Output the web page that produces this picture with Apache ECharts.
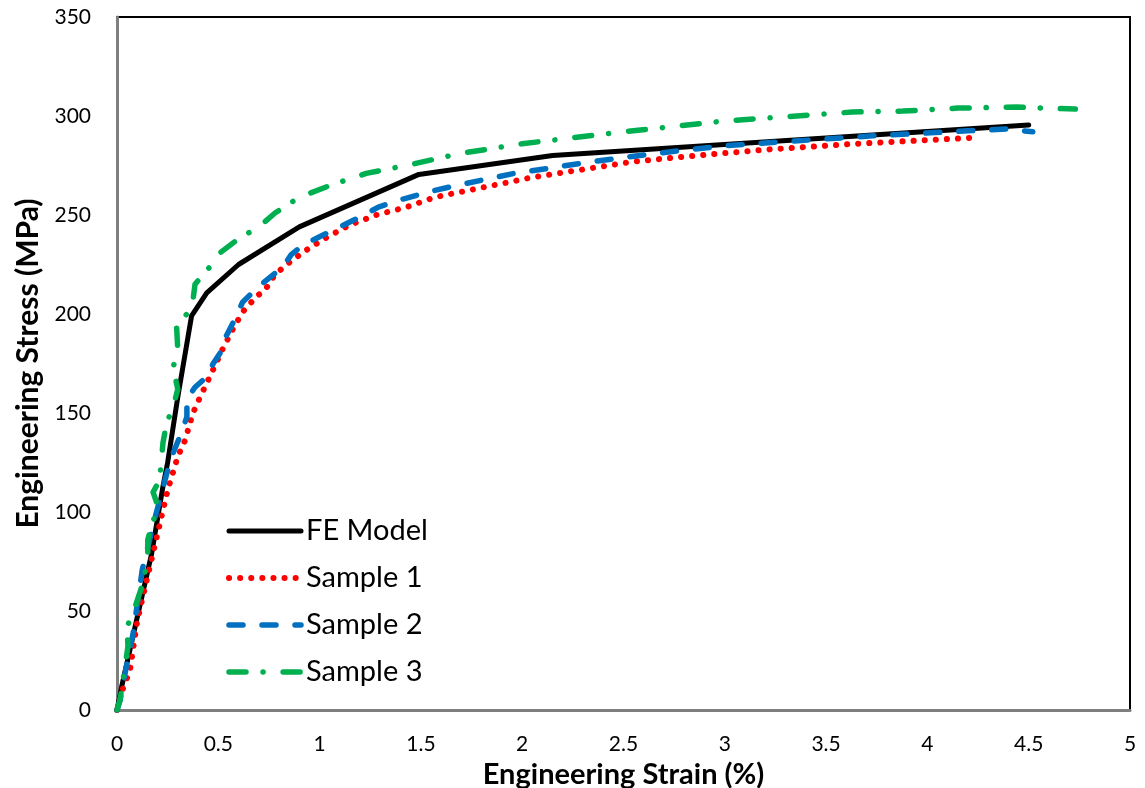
<!DOCTYPE html>
<html>
<head>
<meta charset="utf-8">
<script src="https://cdn.jsdelivr.net/npm/echarts@6/dist/echarts.min.js"></script>
<style>
html,body{margin:0;padding:0;background:#fff;}
#chart{width:1145px;height:788px;}
</style>
</head>
<body>
<div id="chart"></div>
<script>
// ---- data ----
const xTicks = [0, 0.5, 1, 1.5, 2, 2.5, 3, 3.5, 4, 4.5, 5];
const yTicks = [0, 50, 100, 150, 200, 250, 300, 350];
const seriesNames = ['FE Model', 'Sample 1', 'Sample 2', 'Sample 3'];

const feStrain = [0, 0.023, 0.097, 0.171, 0.227, 0.25, 0.30, 0.368, 0.443, 0.60, 0.90, 1.49, 2.15, 4.50];
const feStress = [0, 11.8, 45.5, 79, 113, 125, 158, 199, 210.7, 225, 244, 270.5, 280, 295.5];

const s1Strain = [0, 0.03, 0.064, 0.10, 0.15, 0.20, 0.25, 0.30, 0.335, 0.375, 0.41, 0.475, 0.52, 0.57, 0.62, 0.69, 0.73, 0.78, 0.85, 0.93, 1.04, 1.15, 1.28, 1.43, 1.57, 2.05, 2.55, 2.86, 3.20, 3.65, 4.22];
const s1Stress = [0, 11, 20, 45, 67, 89, 111, 128, 136, 150, 158, 172, 182, 192, 201, 209, 212, 220, 226, 232, 239, 245, 250, 254, 259, 269, 277, 280, 283, 286, 289];

const s2Strain = [0, 0.015, 0.05, 0.08, 0.125, 0.19, 0.25, 0.27, 0.31, 0.345, 0.345, 0.385, 0.44, 0.475, 0.52, 0.54, 0.58, 0.62, 0.69, 0.82, 0.86, 0.92, 1.00, 1.10, 1.22, 1.29, 1.41, 1.55, 1.68, 1.96, 2.35, 2.65, 3.00, 3.73, 4.39, 4.52];
const s2Stress = [0, 5, 24, 39, 71, 98, 121, 128, 138, 148, 157, 163, 168, 175, 182, 189, 197, 206, 213, 224, 230, 235, 239, 244, 250, 254, 258, 262, 265, 271, 277, 281, 285, 290, 293.5, 292];

const s3Strain = [0, 0.015, 0.054, 0.05, 0.089, 0.128, 0.152, 0.152, 0.178, 0.212, 0.178, 0.21, 0.227, 0.245, 0.277, 0.30, 0.277, 0.30, 0.294, 0.37, 0.385, 0.46, 0.51, 0.60, 0.70, 0.78, 0.90, 1.07, 1.23, 1.46, 1.69, 2.00, 2.50, 3.00, 3.63, 3.88, 4.15, 4.44, 4.73];
const s3Stress = [0, 5, 32, 42, 52, 64, 77, 86, 96, 100, 110, 116, 135, 145, 153, 162, 173, 182, 194, 203, 215, 224, 231, 238, 244, 251, 259, 265.6, 271, 275.7, 281, 286, 292, 297.5, 302, 302.5, 304, 304.5, 303.5];

function zip(a, b) { return a.map((v, i) => [v, b[i]]); }

const chart = echarts.init(document.getElementById('chart'), null, {renderer: 'canvas'});
const FONT = 'Lato, "Open Sans", sans-serif';

chart.setOption({
  animation: false,
  backgroundColor: '#ffffff',
  grid: {
    left: 117, right: 15, top: 17, bottom: 78,
    containLabel: false, outerBoundsMode: 'none',
    show: true, borderColor: '#000000', borderWidth: 2, backgroundColor: 'transparent'
  },
  legend: {
    orient: 'vertical',
    left: 221, top: 511,
    itemWidth: 72, itemHeight: 14, itemGap: 17,
    itemStyle: { opacity: 0 },
    lineStyle: { width: 'inherit', type: 'inherit', cap: 'inherit' },
    textStyle: { fontFamily: FONT, fontSize: 29, color: '#000', lineHeight: 30 },
    data: seriesNames
  },
  xAxis: {
    type: 'value', min: 0, max: 5, interval: 0.5,
    name: 'Engineering Strain (%)', nameLocation: 'middle', nameGap: 44,
    nameTextStyle: { fontFamily: FONT, fontWeight: 'bold', fontSize: 29, color: '#000' },
    axisLine: { show: true, onZero: false, lineStyle: { color: '#7f7f7f', width: 3 } },
    axisTick: { show: false },
    splitLine: { show: false },
    axisLabel: {
      fontFamily: FONT, fontSize: 21, color: '#000', margin: 24,
      formatter: v => String(xTicks.find(t => Math.abs(t - v) < 1e-9) ?? v)
    }
  },
  yAxis: {
    type: 'value', min: 0, max: 350, interval: 50,
    name: 'Engineering Stress (MPa)', nameLocation: 'middle', nameGap: 74, nameRotate: 90,
    nameTextStyle: { fontFamily: FONT, fontWeight: 'bold', fontSize: 30, color: '#000' },
    axisLine: { show: true, onZero: false, lineStyle: { color: '#7f7f7f', width: 3 } },
    axisTick: { show: false },
    splitLine: { show: false },
    axisLabel: {
      fontFamily: FONT, fontSize: 21, color: '#000', margin: 26,
      formatter: v => String(yTicks.find(t => t === v) ?? v)
    }
  },
  series: [
    {
      name: seriesNames[1], type: 'line', data: zip(s1Strain, s1Stress),
      symbol: 'none', z: 3,
      lineStyle: { color: '#ff0000', width: 6, type: [0.1, 11], cap: 'round', join: 'round' }
    },
    {
      name: seriesNames[2], type: 'line', data: zip(s2Strain, s2Stress),
      symbol: 'none', z: 4,
      lineStyle: { color: '#0070c0', width: 5.5, type: [14, 19], cap: 'round', join: 'round' }
    },
    {
      name: seriesNames[3], type: 'line', data: zip(s3Strain, s3Stress),
      symbol: 'none', z: 5,
      lineStyle: { color: '#00b050', width: 5.5, type: [17, 17, 0.1, 20], cap: 'round', join: 'round' }
    },
    {
      name: seriesNames[0], type: 'line', data: zip(feStrain, feStress),
      symbol: 'none', z: 2,
      lineStyle: { color: '#000000', width: 5, cap: 'round', join: 'round' }
    }
  ]
});
</script>
</body>
</html>
